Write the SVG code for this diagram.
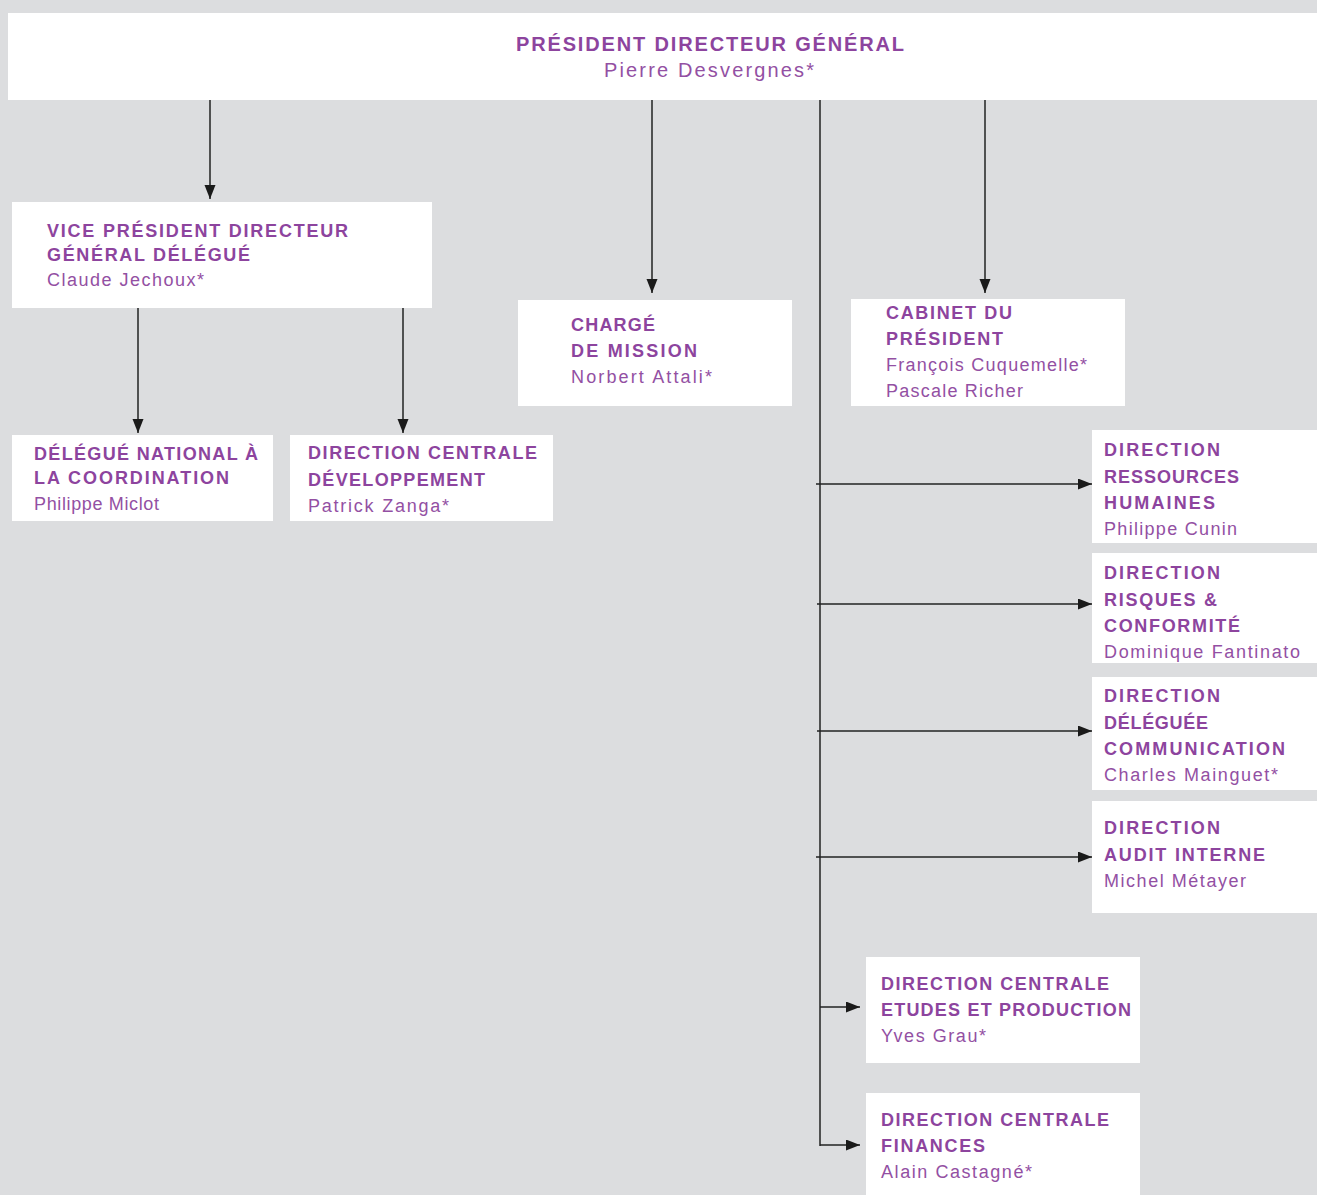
<svg xmlns="http://www.w3.org/2000/svg" width="1317" height="1195" viewBox="0 0 1317 1195">
<style>
.bg{fill:#dcdddf}
.box{fill:#ffffff}
.t{font-family:"Liberation Sans",Arial,sans-serif;font-size:18px;font-weight:bold;fill:#8d449e}
.n{font-family:"Liberation Sans",Arial,sans-serif;font-size:18px;fill:#9350a3}
.ln{stroke:#222;stroke-width:1.5;fill:none}
</style>
<defs>
<marker id="ah" markerUnits="userSpaceOnUse" markerWidth="14" markerHeight="12" refX="14" refY="5.5" orient="auto">
<path d="M0,0 L14,5.5 L0,11 z" fill="#1a1a1a"/>
</marker>
</defs>
<rect class="bg" x="0" y="0" width="1317" height="1195"/>

<g id="connectors">
<line class="ln" x1="210" y1="100" x2="210" y2="199" marker-end="url(#ah)"/>
<line class="ln" x1="652" y1="100" x2="652" y2="293" marker-end="url(#ah)"/>
<line class="ln" x1="985" y1="100" x2="985" y2="293" marker-end="url(#ah)"/>
<line class="ln" x1="138" y1="308" x2="138" y2="433" marker-end="url(#ah)"/>
<line class="ln" x1="403" y1="308" x2="403" y2="433" marker-end="url(#ah)"/>
<line class="ln" x1="820" y1="100" x2="820" y2="1146"/>
<line class="ln" x1="816" y1="484" x2="1092" y2="484" marker-end="url(#ah)"/>
<line class="ln" x1="817" y1="604" x2="1092" y2="604" marker-end="url(#ah)"/>
<line class="ln" x1="817" y1="731" x2="1092" y2="731" marker-end="url(#ah)"/>
<line class="ln" x1="816" y1="857" x2="1092" y2="857" marker-end="url(#ah)"/>
<line class="ln" x1="820" y1="1007" x2="860" y2="1007" marker-end="url(#ah)"/>
<line class="ln" x1="820" y1="1145" x2="860" y2="1145" marker-end="url(#ah)"/>
</g>

<g id="pdg">
<rect class="box" x="8" y="13" width="1309" height="87"/>
<text class="t" x="516" y="51" style="font-size:20px" textLength="388" lengthAdjust="spacing">PRÉSIDENT DIRECTEUR GÉNÉRAL</text>
<text class="n" x="604" y="77" style="font-size:20px" textLength="210" lengthAdjust="spacing">Pierre Desvergnes*</text>
</g>

<g id="vp">
<rect class="box" x="12" y="202" width="420" height="106"/>
<text class="t" x="47" y="237" textLength="301" lengthAdjust="spacing">VICE PRÉSIDENT DIRECTEUR</text>
<text class="t" x="47" y="261" textLength="203" lengthAdjust="spacing">GÉNÉRAL DÉLÉGUÉ</text>
<text class="n" x="47" y="286" textLength="157" lengthAdjust="spacing">Claude Jechoux*</text>
</g>

<g id="delegue">
<rect class="box" x="12" y="435" width="261" height="86"/>
<text class="t" x="34" y="460" textLength="224" lengthAdjust="spacing">DÉLÉGUÉ NATIONAL À</text>
<text class="t" x="34" y="484" textLength="195" lengthAdjust="spacing">LA COORDINATION</text>
<text class="n" x="34" y="510" textLength="125" lengthAdjust="spacing">Philippe Miclot</text>
</g>

<g id="developpement">
<rect class="box" x="290" y="435" width="263" height="86"/>
<text class="t" x="308" y="459" textLength="229" lengthAdjust="spacing">DIRECTION CENTRALE</text>
<text class="t" x="308" y="486" textLength="177" lengthAdjust="spacing">DÉVELOPPEMENT</text>
<text class="n" x="308" y="512" textLength="141" lengthAdjust="spacing">Patrick Zanga*</text>
</g>

<g id="mission">
<rect class="box" x="518" y="300" width="274" height="106"/>
<text class="t" x="571" y="331" textLength="84" lengthAdjust="spacing">CHARGÉ</text>
<text class="t" x="571" y="357" textLength="126" lengthAdjust="spacing">DE MISSION</text>
<text class="n" x="571" y="383" textLength="141" lengthAdjust="spacing">Norbert Attali*</text>
</g>

<g id="cabinet">
<rect class="box" x="851" y="299" width="274" height="107"/>
<text class="t" x="886" y="319" textLength="126" lengthAdjust="spacing">CABINET DU</text>
<text class="t" x="886" y="345" textLength="117" lengthAdjust="spacing">PRÉSIDENT</text>
<text class="n" x="886" y="371" textLength="201" lengthAdjust="spacing">François Cuquemelle*</text>
<text class="n" x="886" y="397" textLength="137" lengthAdjust="spacing">Pascale Richer</text>
</g>

<g id="rh">
<rect class="box" x="1092" y="430" width="225" height="113"/>
<text class="t" x="1104" y="456" textLength="116" lengthAdjust="spacing">DIRECTION</text>
<text class="t" x="1104" y="483" textLength="135" lengthAdjust="spacing">RESSOURCES</text>
<text class="t" x="1104" y="509" textLength="111" lengthAdjust="spacing">HUMAINES</text>
<text class="n" x="1104" y="535" textLength="133" lengthAdjust="spacing">Philippe Cunin</text>
</g>

<g id="risques">
<rect class="box" x="1092" y="553" width="225" height="110"/>
<text class="t" x="1104" y="579" textLength="116" lengthAdjust="spacing">DIRECTION</text>
<text class="t" x="1104" y="606" textLength="113" lengthAdjust="spacing">RISQUES &amp;</text>
<text class="t" x="1104" y="632" textLength="136" lengthAdjust="spacing">CONFORMITÉ</text>
<text class="n" x="1104" y="658" textLength="196" lengthAdjust="spacing">Dominique Fantinato</text>
</g>

<g id="communication">
<rect class="box" x="1092" y="677" width="225" height="113"/>
<text class="t" x="1104" y="702" textLength="116" lengthAdjust="spacing">DIRECTION</text>
<text class="t" x="1104" y="729" textLength="104" lengthAdjust="spacing">DÉLÉGUÉE</text>
<text class="t" x="1104" y="755" textLength="181" lengthAdjust="spacing">COMMUNICATION</text>
<text class="n" x="1104" y="781" textLength="174" lengthAdjust="spacing">Charles Mainguet*</text>
</g>

<g id="audit">
<rect class="box" x="1092" y="801" width="225" height="112"/>
<text class="t" x="1104" y="834" textLength="116" lengthAdjust="spacing">DIRECTION</text>
<text class="t" x="1104" y="861" textLength="161" lengthAdjust="spacing">AUDIT INTERNE</text>
<text class="n" x="1104" y="887" textLength="142" lengthAdjust="spacing">Michel Métayer</text>
</g>

<g id="etudes">
<rect class="box" x="866" y="957" width="274" height="106"/>
<text class="t" x="881" y="990" textLength="228" lengthAdjust="spacing">DIRECTION CENTRALE</text>
<text class="t" x="881" y="1016" textLength="250" lengthAdjust="spacing">ETUDES ET PRODUCTION</text>
<text class="n" x="881" y="1042" textLength="105" lengthAdjust="spacing">Yves Grau*</text>
</g>

<g id="finances">
<rect class="box" x="866" y="1093" width="274" height="102"/>
<text class="t" x="881" y="1126" textLength="228" lengthAdjust="spacing">DIRECTION CENTRALE</text>
<text class="t" x="881" y="1152" textLength="104" lengthAdjust="spacing">FINANCES</text>
<text class="n" x="881" y="1178" textLength="151" lengthAdjust="spacing">Alain Castagné*</text>
</g>
</svg>
